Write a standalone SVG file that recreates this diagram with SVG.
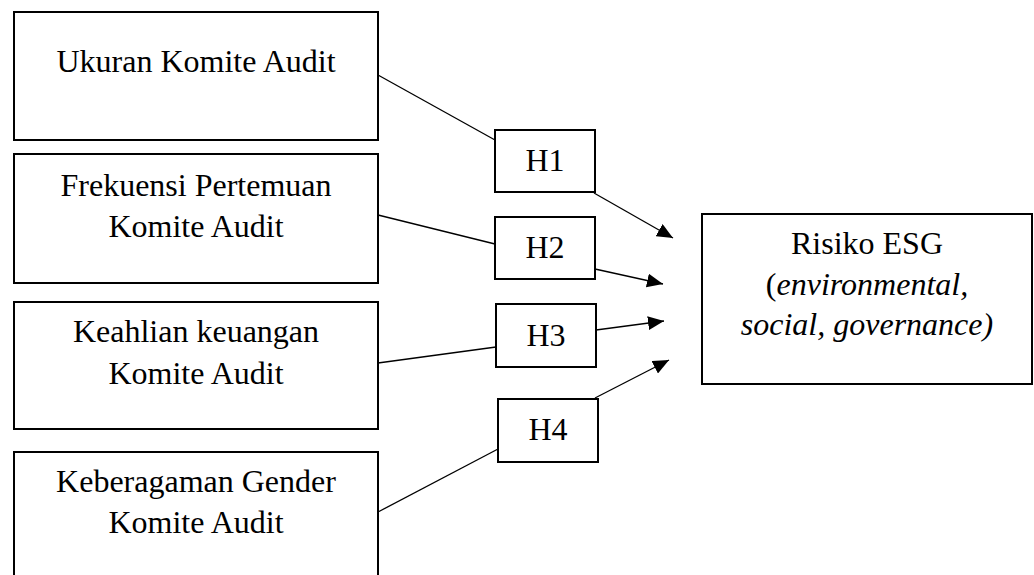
<svg xmlns="http://www.w3.org/2000/svg" width="1034" height="575" viewBox="0 0 1034 575">
<style>
.box{fill:#fff;stroke:#000;stroke-width:2}
.t{font-family:"Liberation Serif","Times New Roman",serif;font-size:32px;fill:#000;text-anchor:middle}
.i{font-style:italic}
.ln{stroke:#000;stroke-width:1.3;fill:none}
</style>
<defs>
<marker id="ah" markerUnits="userSpaceOnUse" markerWidth="17" markerHeight="14" refX="16" refY="7" orient="auto">
<path d="M0,0 L16,7 L0,14 z" fill="#000"/>
</marker>
</defs>
<rect width="1034" height="575" fill="#fff"/>
<g id="connectors">
<line class="ln" x1="378" y1="75" x2="495" y2="140"/>
<line class="ln" x1="594" y1="193" x2="673" y2="238" marker-end="url(#ah)"/>
<line class="ln" x1="378" y1="215" x2="495" y2="244"/>
<line class="ln" x1="595" y1="269" x2="663" y2="284" marker-end="url(#ah)"/>
<line class="ln" x1="378" y1="363" x2="496" y2="347"/>
<line class="ln" x1="596" y1="330" x2="664" y2="321" marker-end="url(#ah)"/>
<line class="ln" x1="378" y1="512" x2="498" y2="449"/>
<line class="ln" x1="595" y1="398" x2="669" y2="360" marker-end="url(#ah)"/>
</g>
<g id="ukuran">
<rect class="box" x="14" y="12" width="364" height="128"/>
<text class="t" x="196" y="72">Ukuran Komite Audit</text>
</g>
<g id="frekuensi">
<rect class="box" x="14" y="154" width="364" height="129"/>
<text class="t" x="196" y="196">Frekuensi Pertemuan</text>
<text class="t" x="196" y="237">Komite Audit</text>
</g>
<g id="keahlian">
<rect class="box" x="14" y="302" width="364" height="127"/>
<text class="t" x="196" y="342">Keahlian keuangan</text>
<text class="t" x="196" y="384">Komite Audit</text>
</g>
<g id="keberagaman">
<rect class="box" x="14" y="452" width="364" height="130"/>
<text class="t" x="196" y="492">Keberagaman Gender</text>
<text class="t" x="196" y="533">Komite Audit</text>
</g>
<g id="h1">
<rect class="box" x="495" y="130" width="100" height="62"/>
<text class="t" x="545" y="171">H1</text>
</g>
<g id="h2">
<rect class="box" x="495" y="217" width="100" height="62"/>
<text class="t" x="545" y="258">H2</text>
</g>
<g id="h3">
<rect class="box" x="496" y="304" width="100" height="63"/>
<text class="t" x="546" y="346">H3</text>
</g>
<g id="h4">
<rect class="box" x="498" y="399" width="100" height="63"/>
<text class="t" x="548" y="440">H4</text>
</g>
<g id="risiko">
<rect class="box" x="702" y="214" width="330" height="170"/>
<text class="t" x="867" y="254">Risiko ESG</text>
<text class="t" x="867" y="295">(<tspan class="i">environmental,</tspan></text>
<text class="t i" x="867" y="335">social, governance)</text>
</g>
</svg>
